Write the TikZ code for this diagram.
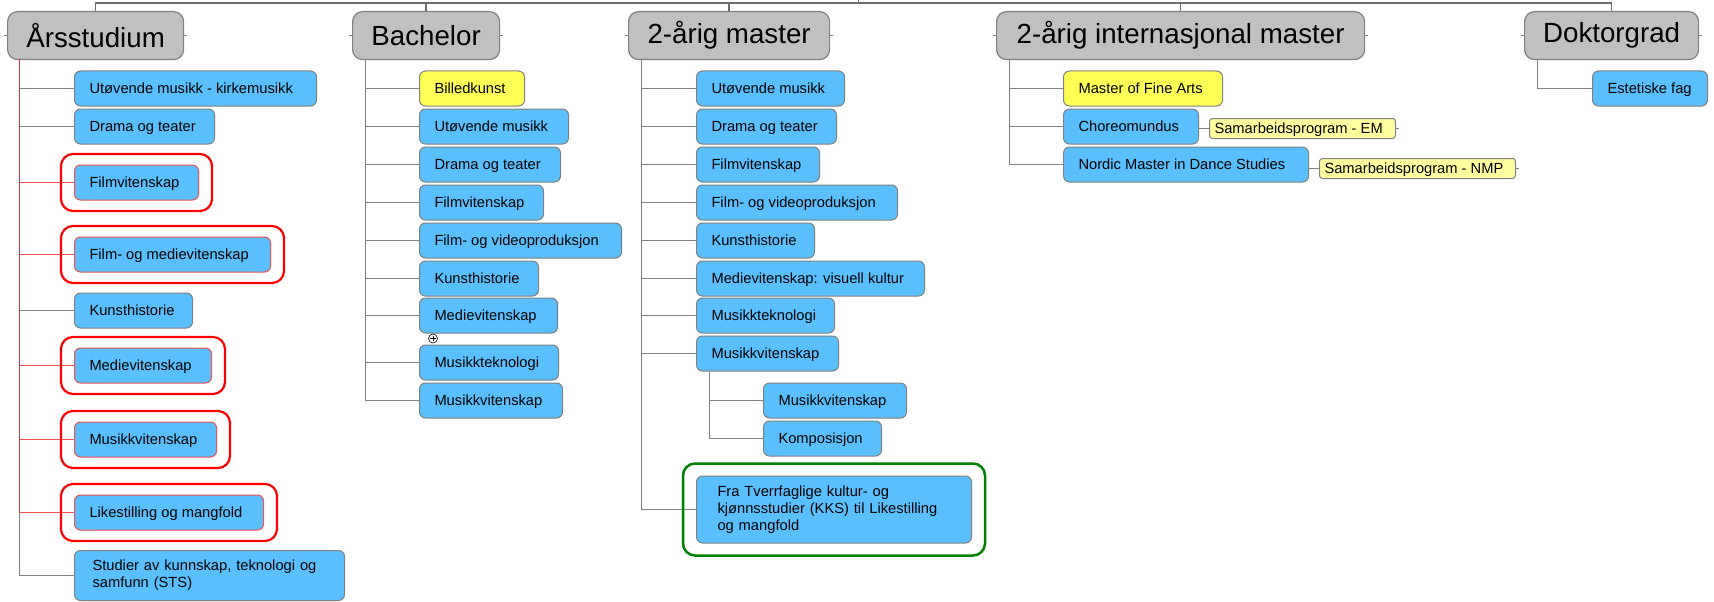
\documentclass[tikz,border=0pt]{standalone}
\usepackage{fontspec}
\setmainfont{Liberation Sans}
\usetikzlibrary{fit}
\definecolor{cblue}{RGB}{90,191,255}
\definecolor{cyel}{RGB}{255,255,85}
\definecolor{cnote}{RGB}{255,255,160}
\definecolor{chdr}{RGB}{192,192,192}
\definecolor{cline}{RGB}{128,128,128}
\definecolor{cred}{RGB}{255,0,0}
\definecolor{credline}{RGB}{240,80,80}
\definecolor{credtrunk}{RGB}{190,60,60}
\definecolor{cgreen}{RGB}{0,128,0}
\tikzset{
  x=1pt, y=-1pt,
  hdr/.style={draw=cline, fill=chdr, rounded corners=10pt, line width=1.2pt, anchor=north west,
    font=\fontsize{27.7}{33}\selectfont, inner sep=0pt, minimum height=48pt},
  item/.style={draw=cline, fill=cblue, rounded corners=6pt, line width=1pt, anchor=west,
    font=\fontsize{14.7}{17}\selectfont, inner xsep=15pt, inner ysep=0pt,
    text height=10.5pt, text depth=0pt, minimum height=35pt},
  yel/.style={fill=cyel},
  hl/.style={draw=credline},
  multi/.style={text height={}, text depth={}, align=left},
  note/.style={draw=cline, fill=cnote, rounded corners=3pt, line width=1pt, anchor=west,
    font=\fontsize{14.7}{17}\selectfont, inner xsep=5pt, inner ysep=0pt,
    text height=10.5pt, text depth=0pt, minimum height=20pt},
  conn/.style={draw=cline, line width=1.1pt},
  rconn/.style={draw=credline, line width=1.1pt},
  rtrunk/.style={draw=credtrunk, line width=1.2pt},
  topbar/.style={draw=cline!85!black, line width=1.6pt},
  redfit/.style={draw=cred, line width=2.2pt, rounded corners=12pt, inner xsep=13pt, inner ysep=10.5pt},
  greenfit/.style={draw=cgreen, line width=2.5pt, rounded corners=12pt, inner xsep=13pt, inner ysep=12pt},
}
% single-line item: [style]{name}{x}{cy}{w}{text}
\newcommand\itm[6][]{%
  \pgfmathsetmacro\tw{#5-30}%
  \node[item,#1] (#2) at (#3,#4) {\makebox[\tw pt][l]{#6}};%
}
% multi-line item: [style]{name}{x}{cy}{textwidth}{text}
\newcommand\itmm[6][]{%
  \node[item,multi,#1,text width=#5pt] (#2) at (#3,#4) {#6};%
}
\begin{document}
\begin{tikzpicture}
\useasboundingbox (0,0) rectangle (1714,602);

% ---------- headers ----------
\node[hdr, minimum width=176pt] (H1) at (7,11) {Årsstudium};
\node[hdr, minimum width=147pt] (H2) at (352,11) {Bachelor};
\node[hdr, minimum width=201pt] (H3) at (628,11) {2-årig master};
\node[hdr, minimum width=368pt] (H4) at (996,11) {2-årig internasjonal master};
\node[hdr, minimum width=174pt] (H5) at (1524,11) {Doktorgrad};

% ---------- top bar ----------
\coordinate (R) at (858.5,0);
\coordinate (B) at (858.5,3);
\draw[topbar] (R) -- (B);
\foreach \h in {H1,H2,H3,H4,H5}{
  \draw[topbar] (B) -| (\h.north);
  \draw[conn] (\h.west) -- ++(-3,0);
  \draw[conn] (\h.east) -- ++(3,0);
}

% ---------- Årsstudium ----------
\itm{a1}{74}{88.5}{242}{Utøvende musikk - kirkemusikk}
\itm{a2}{74}{126.5}{140}{Drama og teater}
\itm[hl]{a3}{74}{182.5}{124}{Filmvitenskap}
\itm[hl]{a4}{74}{254.5}{196}{Film- og medievitenskap}
\itm{a5}{74}{310.5}{118}{Kunsthistorie}
\itm[hl]{a6}{74}{365.5}{137}{Medievitenskap}
\itm[hl]{a7}{74}{439.5}{142}{Musikkvitenskap}
\itm[hl]{a8}{74}{512.5}{189}{Likestilling og mangfold}
\itmm[inner xsep=18pt,minimum height=50pt]{a9}{74}{575.5}{234}{Studier av kunnskap, teknologi og\\samfunn (STS)}

\coordinate (T1) at (19.5,59);
\foreach \c in {a1,a2,a5,a9}{\draw[conn] (T1) |- (\c.west);}
\draw[rtrunk] (T1) -- (T1 |- a8.west);
\foreach \c in {a3,a4,a6,a7,a8}{\draw[rconn] (T1 |- \c.west) -- (\c.west);}

\node[redfit, fit=(a3)] (f3) {};
\node[redfit, fit=(a4)] (f4) {};
\node[redfit, fit=(a6)] (f6) {};
\node[redfit, fit=(a7)] (f7) {};
\node[redfit, fit=(a8)] (f8) {};

% ---------- Bachelor ----------
\itm[yel]{b1}{419}{88.5}{105}{Billedkunst}
\itm{b2}{419}{126.5}{149}{Utøvende musikk}
\itm{b3}{419}{164.5}{141}{Drama og teater}
\itm{b4}{419}{202.5}{124}{Filmvitenskap}
\itm{b5}{419}{240.5}{202}{Film- og videoproduksjon}
\itm{b6}{419}{278.5}{119}{Kunsthistorie}
\itm{b7}{419}{315.5}{138}{Medievitenskap}
\itm{b8}{419}{362.5}{139}{Musikkteknologi}
\itm{b9}{419}{400.5}{143}{Musikkvitenskap}
\coordinate (T2) at (365.5,59);
\foreach \c in {b1,b2,b3,b4,b5,b6,b7,b8,b9}{\draw[conn] (T2) |- (\c.west);}
\draw[black, line width=0.6pt, fill=white] (433,338.5) circle (4.5pt);
\draw[black, line width=0.6pt] (430.3,338.5) -- (435.7,338.5) (433,335.8) -- (433,341.2);

% ---------- 2-årig master ----------
\itm{m1}{696}{88.5}{148}{Utøvende musikk}
\itm{m2}{696}{126.5}{140}{Drama og teater}
\itm{m3}{696}{164.5}{123}{Filmvitenskap}
\itm{m4}{696}{202.5}{201}{Film- og videoproduksjon}
\itm{m5}{696}{240.5}{118}{Kunsthistorie}
\itm{m6}{696}{278.5}{228}{Medievitenskap: visuell kultur}
\itm{m7}{696}{315.5}{138}{Musikkteknologi}
\itm{m8}{696}{353.5}{142}{Musikkvitenskap}
\itm{m9}{763}{400.5}{143}{Musikkvitenskap}
\itm{m10}{763}{438.5}{118}{Komposisjon}
\itmm[inner xsep=21pt,minimum height=67pt]{m11}{696}{509.5}{233}{Fra Tverrfaglige kultur- og\\kjønnsstudier (KKS) til Likestilling\\og mangfold}
\coordinate (T3) at (641.5,59);
\foreach \c in {m1,m2,m3,m4,m5,m6,m7,m8,m11}{\draw[conn] (T3) |- (\c.west);}
\coordinate (T3b) at ([xshift=13.5pt]m8.south west);
\foreach \c in {m9,m10}{\draw[conn] (T3b) |- (\c.west);}
\node[greenfit, fit=(m11)] (g11) {};

% ---------- 2-årig internasjonal master ----------
\itm[yel]{i1}{1063}{88.5}{159}{Master of Fine Arts}
\itm{i2}{1063}{126.5}{135}{Choreomundus}
\itm{i3}{1063}{164.5}{245}{Nordic Master in Dance Studies}
\node[note] (n1) at (1209,128.5) {\makebox[176pt][l]{Samarbeidsprogram - EM}};
\node[note] (n2) at (1319,168.5) {\makebox[186pt][l]{Samarbeidsprogram - NMP}};
\coordinate (T4) at (1009.5,59);
\foreach \c in {i1,i2,i3}{\draw[conn] (T4) |- (\c.west);}
\draw[conn] (n1.west -| i2.east) -- (n1.west);
\draw[conn] (n2.west -| i3.east) -- (n2.west);
\draw[conn] (n1.east) -- ++(3,0);
\draw[conn] (n2.east) -- ++(3,0);

% ---------- Doktorgrad ----------
\itm{d1}{1592}{88.5}{115}{Estetiske fag}
\coordinate (T5) at (1537.5,59);
\draw[conn] (T5) |- (d1.west);
\end{tikzpicture}
\end{document}
